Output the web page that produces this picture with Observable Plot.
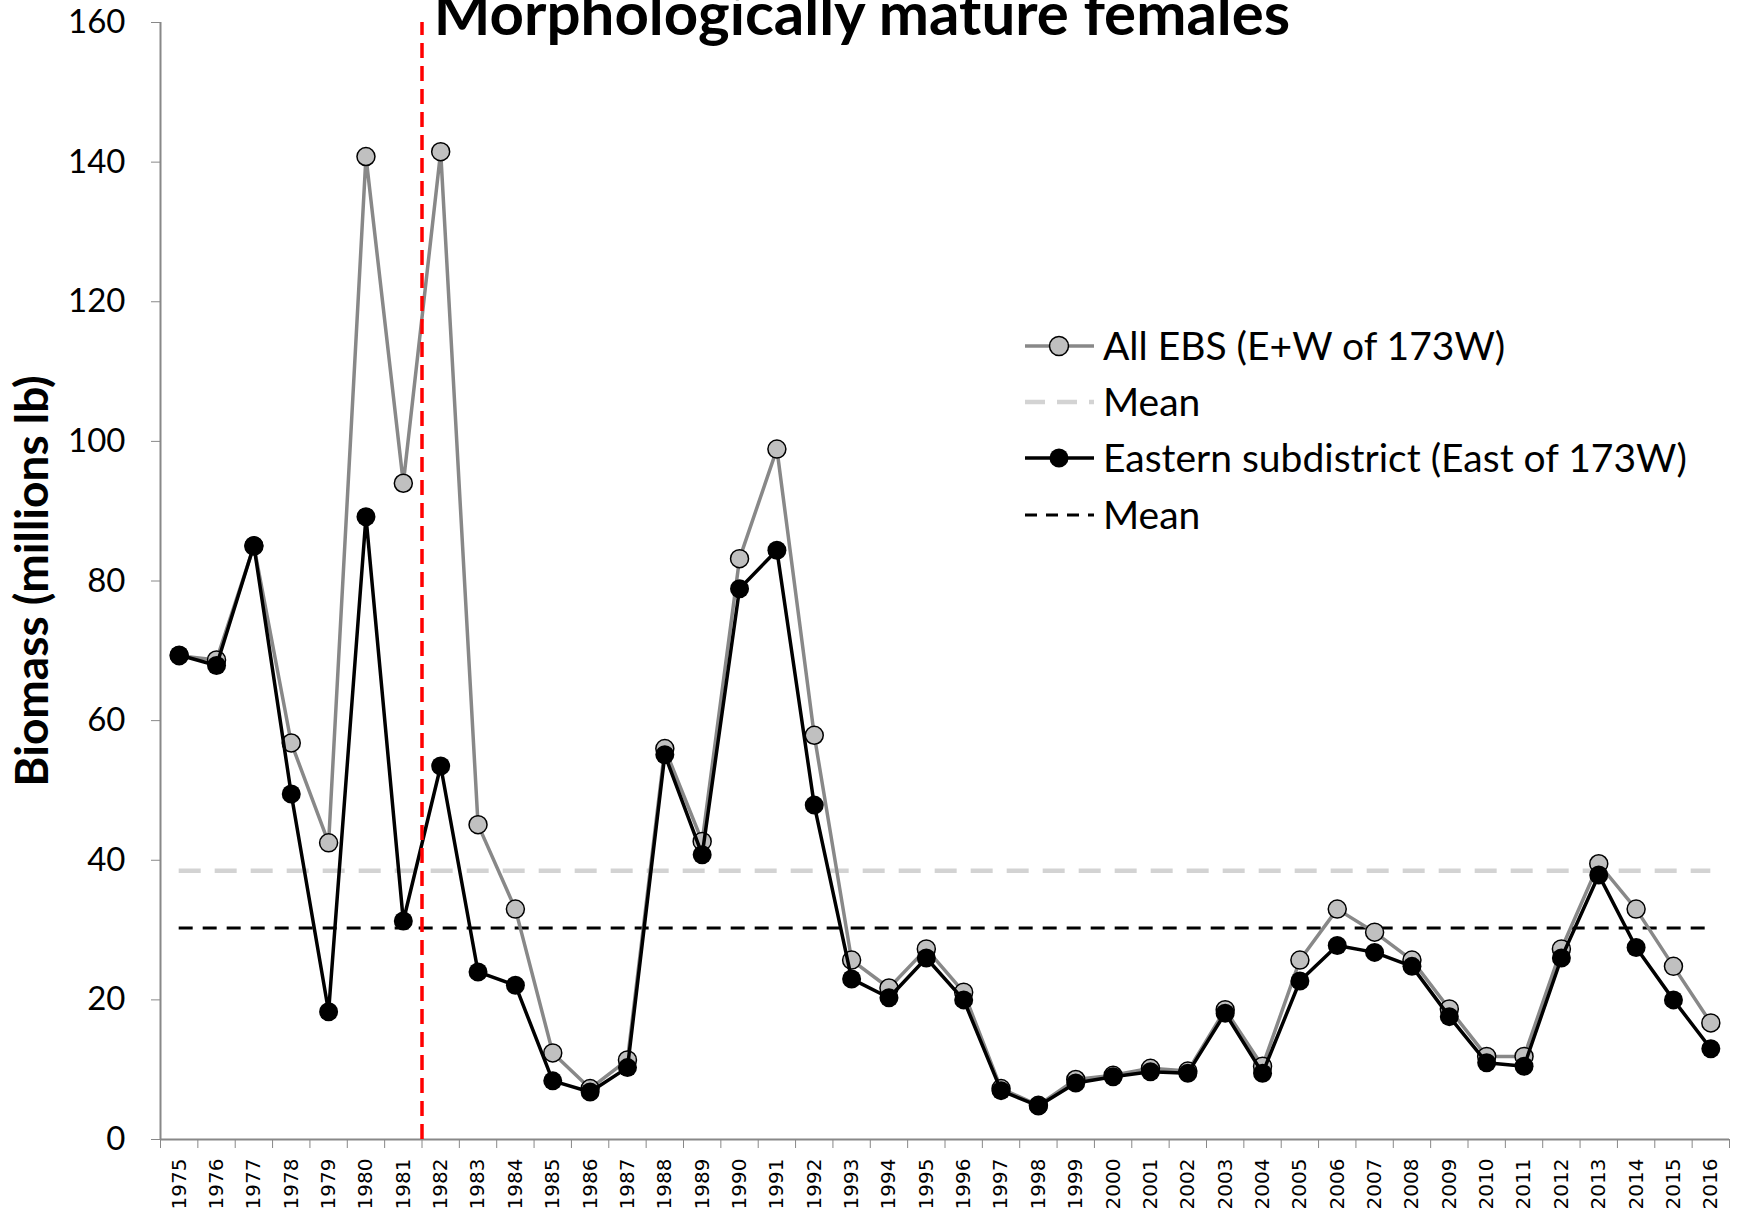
<!DOCTYPE html>
<html><head><meta charset="utf-8">
<script src="https://cdn.jsdelivr.net/npm/d3@7"></script>
<script src="https://cdn.jsdelivr.net/npm/@observablehq/plot@0.6"></script>
<style>body{margin:0;background:#fff} #chart{position:relative;width:1738px;height:1213px;overflow:hidden}</style>
</head><body><div id="chart"></div>
<script>
const title = "Morphologically mature females";
const yLabel = "Biomass (millions lb)";
const years = [1975,1976,1977,1978,1979,1980,1981,1982,1983,1984,1985,1986,1987,1988,1989,1990,1991,1992,1993,1994,1995,1996,1997,1998,1999,2000,2001,2002,2003,2004,2005,2006,2007,2008,2009,2010,2011,2012,2013,2014,2015,2016];
const allEBS = [69.3,68.7,85.0,56.8,42.5,140.8,94.0,141.5,45.1,33.0,12.4,7.3,11.4,56.0,42.7,83.2,98.9,57.9,25.7,21.7,27.3,21.1,7.3,4.9,8.6,9.2,10.2,9.8,18.6,10.5,25.7,33.0,29.7,25.7,18.7,11.9,11.9,27.3,39.5,33.0,24.8,16.7];
const eastern = [69.4,67.9,85.1,49.5,18.3,89.2,31.3,53.5,24.0,22.1,8.4,6.8,10.3,55.1,40.8,78.9,84.4,47.9,23.0,20.3,26.0,20.0,7.0,4.8,8.1,9.0,9.7,9.5,18.1,9.5,22.7,27.8,26.8,24.8,17.6,11.0,10.5,26.0,37.9,27.5,20.0,13.0];
const meanAll = 38.5;
const meanEast = 30.3;
const breakYear = 1981.5;
const yTicks = [0,20,40,60,80,100,120,140,160];
const legendLabels = ["All EBS (E+W of 173W)", "Mean", "Eastern subdistrict (East of 173W)", "Mean"];

const rows = years.map((year, i) => ({year, all: allEBS[i], east: eastern[i]}));
const boundaries = [...years.map(y => y - 0.5), years[years.length - 1] + 0.5];
const x0 = years[0], x1 = years[years.length - 1];

const plot = Plot.plot({
  width: 1738, height: 1213,
  marginLeft: 160, marginRight: 9, marginTop: 22, marginBottom: 74,
  style: {fontFamily: "Lato", background: "#fff", overflow: "visible", color: "#000"},
  x: {domain: [x0 - 0.5, x1 + 0.5]},
  y: {domain: [0, 160]},
  marks: [
    Plot.axisY({ticks: yTicks, tickSize: 9, tickPadding: 26, stroke: "#888", fill: "#000", fontSize: 33, fontFamily: "Lato", label: null}),
    Plot.axisX({ticks: boundaries, tickSize: 9, stroke: "#888", tickFormat: () => "", label: null}),
    Plot.axisX({ticks: years, tickSize: 0, tickPadding: 19, tickRotate: -90, fontSize: 20, fontFamily: "DejaVu Sans", fill: "#000", tickFormat: d => String(d), label: null}),
    Plot.ruleY([0], {stroke: "#888", strokeWidth: 2}),
    Plot.ruleX([x0 - 0.5], {stroke: "#888", strokeWidth: 2}),
    Plot.ruleY([meanAll], {x1: x0, x2: x1, stroke: "#d3d3d3", strokeWidth: 4.5, strokeDasharray: "22 14"}),
    Plot.ruleY([meanEast], {x1: x0, x2: x1, stroke: "#000", strokeWidth: 3, strokeDasharray: "14 10"}),
    Plot.line(rows, {x: "year", y: "all", stroke: "#888", strokeWidth: 3.5}),
    Plot.dot(rows, {x: "year", y: "all", r: 9, fill: "#c0c0c0", stroke: "#000", strokeWidth: 1.5}),
    Plot.line(rows, {x: "year", y: "east", stroke: "#000", strokeWidth: 3.5}),
    Plot.dot(rows, {x: "year", y: "east", r: 9.5, fill: "#000"}),
    Plot.ruleX([breakYear], {y1: 0, y2: 160, stroke: "#ff0000", strokeWidth: 3.5, strokeDasharray: "15 8"}),
    Plot.text([title], {frameAnchor: "top", dx: -83, dy: 12, lineAnchor: "bottom", fontSize: 60, fontWeight: "bold", fontFamily: "Lato", fill: "#000"}),
    Plot.text([yLabel], {frameAnchor: "left", dx: -127, rotate: -90, textAnchor: "middle", lineAnchor: "middle", fontSize: 46, fontWeight: "bold", fontFamily: "Lato", fill: "#000"})
  ]
});
document.getElementById("chart").appendChild(plot);

// Legend
const svg = d3.select(plot);
const lg = svg.append("g").attr("font-family", "Lato").attr("font-size", 39).attr("text-anchor", "start");
const rowsY = [346, 402, 458, 515];
const styles = [
  {stroke: "#888", w: 3.5, dash: null, dot: {fill: "#c0c0c0", stroke: "#000"}},
  {stroke: "#d3d3d3", w: 4.5, dash: "20 12", dot: null},
  {stroke: "#000", w: 3.5, dash: null, dot: {fill: "#000", stroke: "none"}},
  {stroke: "#000", w: 3, dash: "12 9", dot: null}
];
legendLabels.forEach((label, i) => {
  const s = styles[i], y = rowsY[i];
  lg.append("line").attr("x1", 1025).attr("x2", 1094).attr("y1", y).attr("y2", y)
    .attr("stroke", s.stroke).attr("stroke-width", s.w).attr("stroke-dasharray", s.dash);
  if (s.dot) lg.append("circle").attr("cx", 1059).attr("cy", y).attr("r", 9.5)
    .attr("fill", s.dot.fill).attr("stroke", s.dot.stroke).attr("stroke-width", 1.5);
  lg.append("text").attr("x", 1103).attr("y", y).attr("dy", "0.35em").attr("fill", "#000").text(label);
});
</script>
</body></html>
